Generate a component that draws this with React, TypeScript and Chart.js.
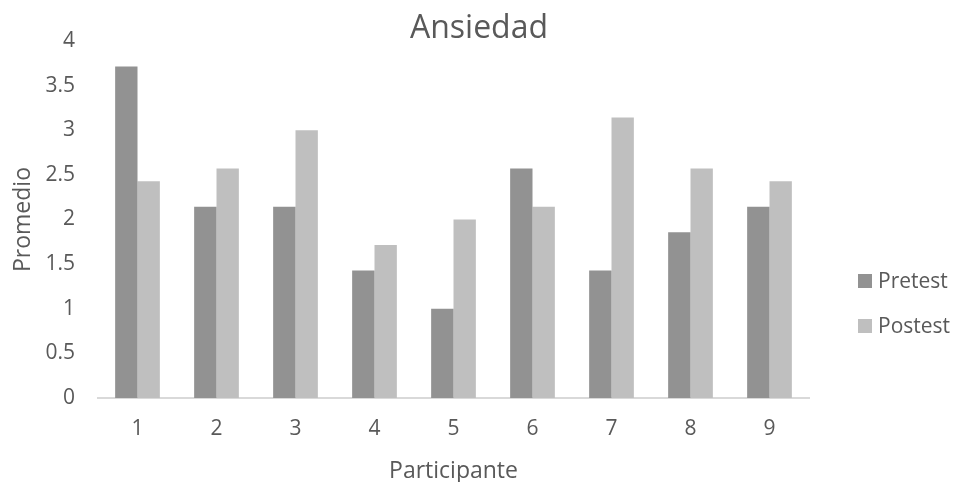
import React, { useEffect, useRef } from "react";
import { Chart, registerables } from "chart.js";

Chart.register(...registerables);

const participantes = ["1", "2", "3", "4", "5", "6", "7", "8", "9"];
const pretest = [3.714, 2.143, 2.143, 1.429, 1.0, 2.571, 1.429, 1.857, 2.143];
const postest = [2.429, 2.571, 3.0, 1.714, 2.0, 2.143, 3.143, 2.571, 2.429];
const seriesNames = ["Pretest", "Postest"];
const seriesColors = ["#929292", "#bfbfbf"];
const chartTitle = "Ansiedad";

const FONT = "'Open Sans', 'DejaVu Sans', sans-serif";
const TEXT = "#595959";

// Title centred over the whole canvas, legend stacked to the right of the plot
const sideDecor = {
  id: "sideDecor",
  afterDraw(chart: any) {
    const ctx = chart.ctx;
    ctx.save();
    ctx.fillStyle = TEXT;
    ctx.font = `32px ${FONT}`;
    ctx.textAlign = "center";
    ctx.textBaseline = "alphabetic";
    ctx.fillText(chartTitle, chart.width / 2 + 2, 38);

    const x = 858;
    const y0 = 281;
    const gap = 45;
    ctx.font = `21px ${FONT}`;
    ctx.textAlign = "left";
    ctx.textBaseline = "middle";
    chart.data.datasets.forEach((ds: any, i: number) => {
      const y = y0 + i * gap;
      ctx.fillStyle = ds.backgroundColor;
      ctx.fillRect(x, y - 7, 14, 14);
      ctx.fillStyle = TEXT;
      ctx.fillText(ds.label, x + 20, y + 1);
    });
    ctx.restore();
  },
};

export default function App() {
  const ref = useRef<HTMLCanvasElement>(null);

  useEffect(() => {
    if (!ref.current) return;
    const chart = new Chart(ref.current, {
      type: "bar",
      data: {
        labels: participantes,
        datasets: [
          { label: seriesNames[0], data: pretest, backgroundColor: seriesColors[0] },
          { label: seriesNames[1], data: postest, backgroundColor: seriesColors[1] },
        ],
      },
      options: {
        responsive: false,
        animation: false,
        layout: { padding: { left: 8, right: 145, top: 41, bottom: 0 } },
        datasets: {
          bar: { categoryPercentage: 0.566, barPercentage: 1 },
        },
        plugins: {
          legend: { display: false },
          tooltip: { enabled: false },
          title: { display: false },
        },
        scales: {
          x: {
            grid: { display: false },
            border: { display: true, color: "#d9d9d9", width: 2 },
            ticks: { color: TEXT, font: { family: FONT, size: 21 }, padding: 10 },
            title: {
              display: true,
              text: "Participante",
              color: TEXT,
              font: { family: FONT, size: 23 },
              padding: { top: 4, bottom: -3 },
            },
            afterFit(scale: any) {
              scale.height = 84;
            },
          },
          y: {
            min: 0,
            max: 4,
            grid: { display: false },
            border: { display: false },
            ticks: {
              stepSize: 0.5,
              color: TEXT,
              font: { family: FONT, size: 21 },
              padding: 15,
              callback: (v: any) => String(Number(v)),
            },
            title: {
              display: true,
              text: "Promedio",
              color: TEXT,
              font: { family: FONT, size: 23 },
              padding: { top: 2, bottom: 0 },
            },
            afterFit(scale: any) {
              scale.width = 90;
            },
          },
        },
      },
      plugins: [sideDecor],
    });
    return () => chart.destroy();
  }, []);

  return (
    <div style={{ position: "fixed", left: 0, top: 0, width: 954, height: 482, background: "#fff" }}>
      <canvas ref={ref} width={954} height={482} />
    </div>
  );
}
